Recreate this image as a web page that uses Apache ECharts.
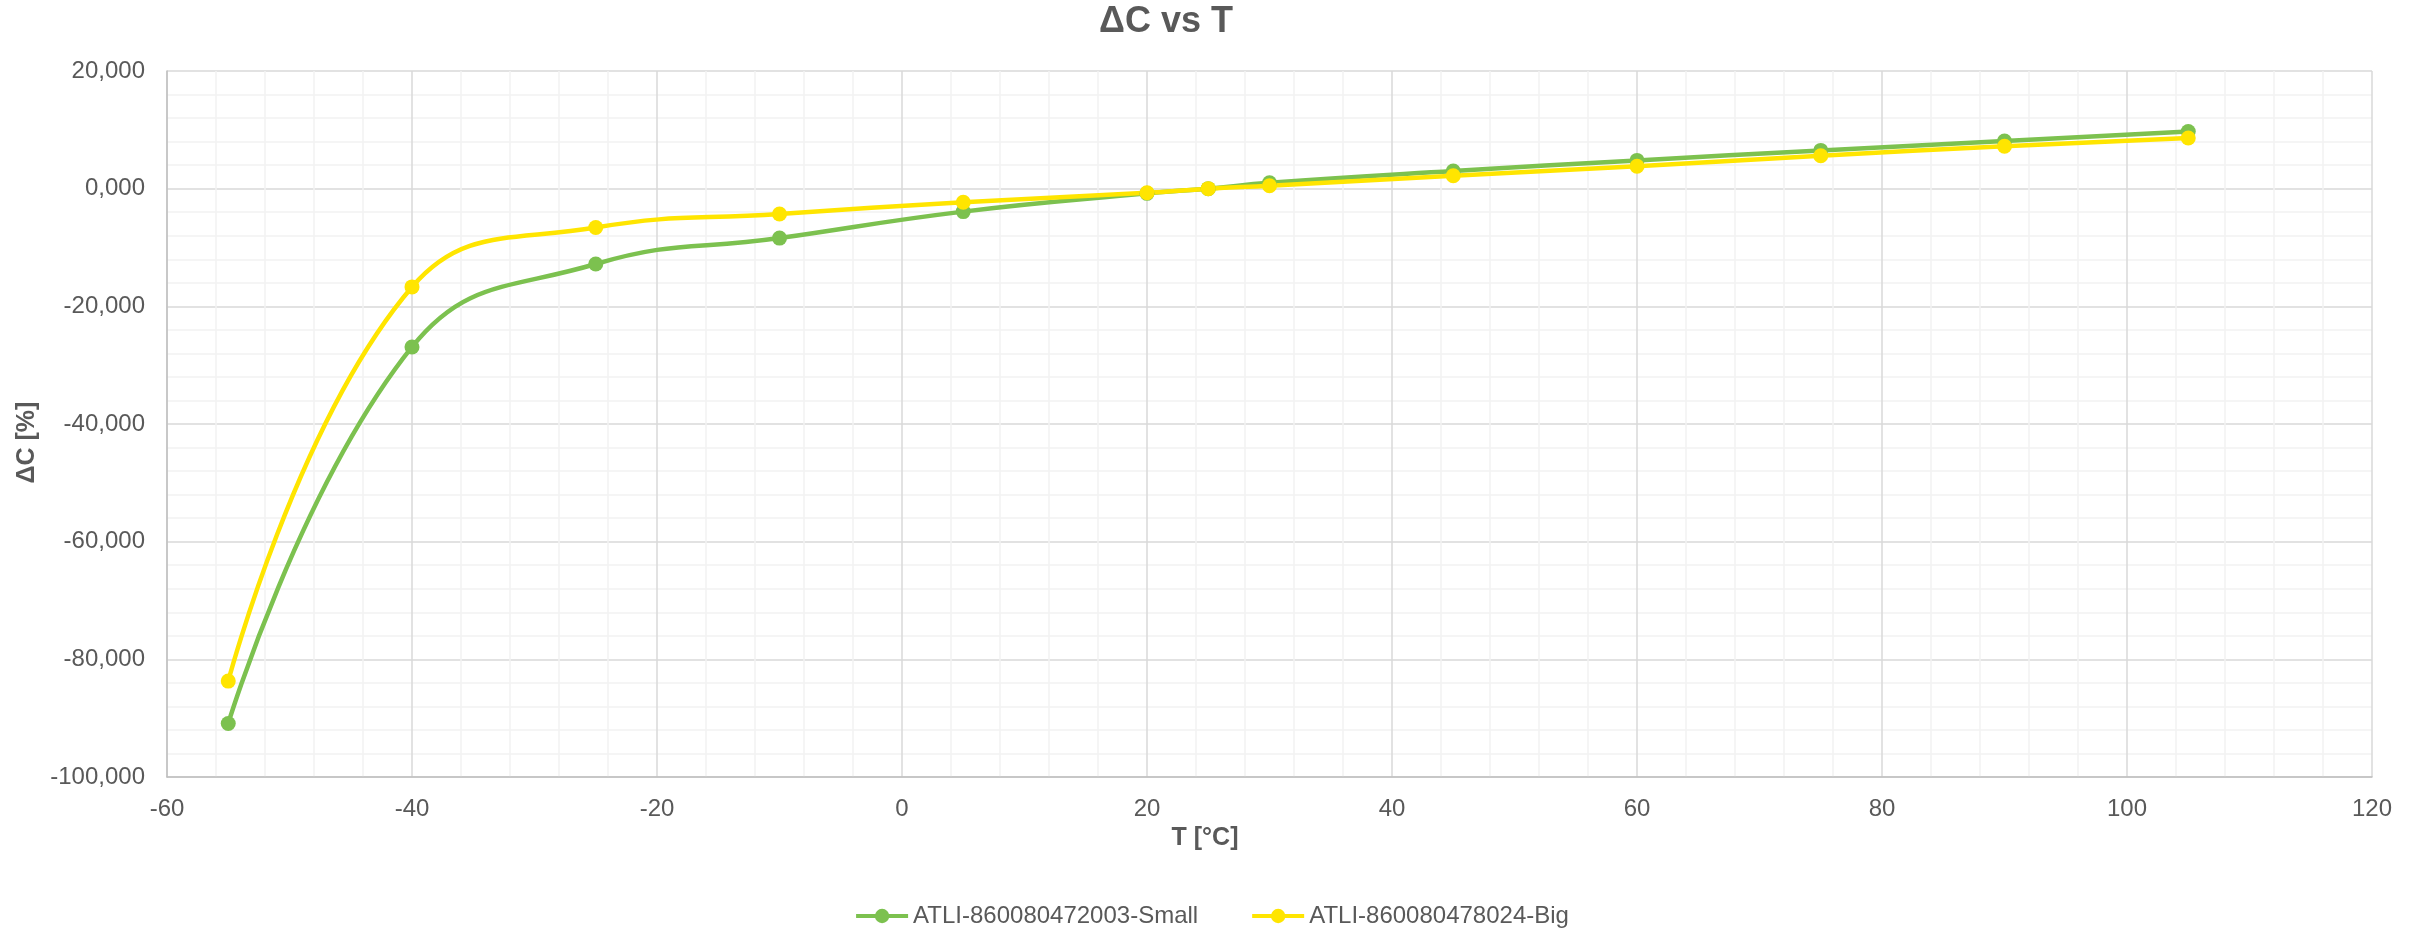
<!DOCTYPE html>
<html>
<head>
<meta charset="utf-8">
<script src="https://cdn.jsdelivr.net/npm/echarts@6/dist/echarts.min.js"></script>
<style>
html,body{margin:0;padding:0;background:#fff;}
#chart{width:2423px;height:930px;}
</style>
</head>
<body>
<div id="chart"></div>
<script>
const temperatures = [-55, -40, -25, -10, 5, 20, 25, 30, 45, 60, 75, 90, 105];
const smallValues = [-90.9, -26.9, -12.8, -8.4, -3.9, -0.8, 0, 1.0, 3.0, 4.8, 6.5, 8.1, 9.7];
const bigValues = [-83.7, -16.7, -6.6, -4.3, -2.3, -0.7, 0, 0.5, 2.2, 3.8, 5.6, 7.2, 8.6];
const seriesNames = ['ATLI-860080472003-Small', 'ATLI-860080478024-Big'];
const titleText = 'ΔC vs T';
const xAxisTitle = 'T [°C]';
const yAxisTitle = 'ΔC [%]';

const FONT = '"Liberation Sans", Arial, sans-serif';
const TXT = '#595959';

function pairs(xs, ys) { return xs.map((x, i) => [x, ys[i]]); }

const chart = echarts.init(document.getElementById('chart'));
chart.setOption({
  animation: false,
  backgroundColor: '#ffffff',
  textStyle: { fontFamily: FONT },
  title: {
    text: titleText,
    left: 1166,
    textAlign: 'center',
    top: 4,
    padding: 0,
    textStyle: { fontFamily: FONT, fontSize: 36, fontWeight: 'bold', color: TXT }
  },
  grid: { left: 167, right: 51, top: 71, bottom: 153, containLabel: false },
  legend: {
    data: seriesNames,
    left: 'center',
    top: 899,
    itemWidth: 52,
    itemHeight: 18,
    itemGap: 52,
    lineStyle: { width: 4 },
    textStyle: { fontFamily: FONT, fontSize: 24, color: TXT }
  },
  xAxis: {
    type: 'value',
    min: -60, max: 120, interval: 20,
    name: xAxisTitle,
    nameLocation: 'middle',
    nameGap: 43,
    nameTextStyle: { fontFamily: FONT, fontSize: 25, fontWeight: 'bold', color: TXT, padding: [0, 129, 0, 0] },
    axisLine: { show: true, onZero: false, lineStyle: { color: '#bfbfbf', width: 1.5 } },
    axisTick: { show: false },
    axisLabel: { fontFamily: FONT, fontSize: 24, color: TXT, margin: 20 },
    splitLine: { show: true, lineStyle: { color: '#d9d9d9', width: 1.5 } },
    minorTick: { show: false, splitNumber: 5 },
    minorSplitLine: { show: true, lineStyle: { color: '#f2f2f2', width: 1.5 } }
  },
  yAxis: {
    type: 'value',
    min: -100, max: 20, interval: 20,
    name: yAxisTitle,
    nameLocation: 'middle',
    nameGap: 127,
    nameTextStyle: { fontFamily: FONT, fontSize: 25, fontWeight: 'bold', color: TXT, padding: [0, 37, 0, 0] },
    axisLine: { show: true, onZero: false, lineStyle: { color: '#bfbfbf', width: 1.5 } },
    axisTick: { show: false },
    axisLabel: {
      fontFamily: FONT, fontSize: 24, color: TXT, margin: 22,
      formatter: v => v.toFixed(3).replace('.', ',')
    },
    splitLine: { show: true, lineStyle: { color: '#d9d9d9', width: 1.5 } },
    minorTick: { show: false, splitNumber: 5 },
    minorSplitLine: { show: true, lineStyle: { color: '#f2f2f2', width: 1.5 } }
  },
  series: [
    {
      name: seriesNames[0],
      type: 'line',
      data: pairs(temperatures, smallValues),
      smooth: 0.45,
      symbol: 'circle',
      symbolSize: 15,
      showAllSymbol: true,
      color: '#7cc14f',
      lineStyle: { color: '#7cc14f', width: 4.5 },
      itemStyle: { color: '#7cc14f' }
    },
    {
      name: seriesNames[1],
      type: 'line',
      data: pairs(temperatures, bigValues),
      smooth: 0.45,
      symbol: 'circle',
      symbolSize: 15,
      showAllSymbol: true,
      color: '#ffe500',
      lineStyle: { color: '#ffe500', width: 4.5 },
      itemStyle: { color: '#ffe500' }
    }
  ]
});
</script>
</body>
</html>
